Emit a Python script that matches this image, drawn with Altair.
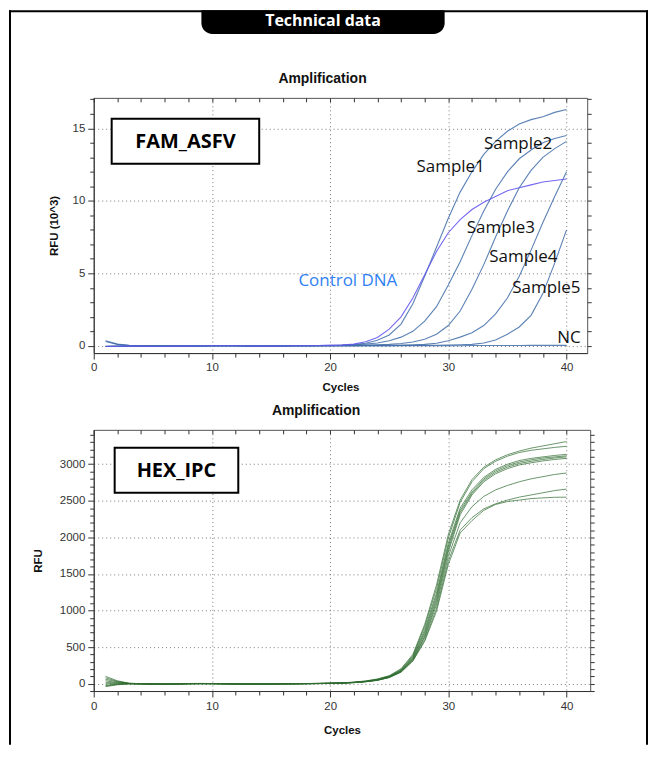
import altair as alt
import pandas as pd

# ---------------- data ----------------
cycles = list(range(1, 41))

# FAM channel, RFU x 10^3
fam_control_dna = [-0.05, -0.03, -0.02, -0.02, -0.03, -0.03, -0.02, -0.02, -0.01, 0.0,
                   0.0, 0.0, -0.01, -0.02, -0.02, -0.01, 0.0, 0.01, 0.02, 0.03,
                   0.05, 0.12, 0.28, 0.57, 1.15, 2.0, 3.3, 4.9, 6.5, 7.8,
                   8.7, 9.4, 9.9, 10.3, 10.7, 10.9, 11.1, 11.3, 11.4, 11.5]
fam_sample1 = [0.35, 0.12, 0.03, 0.0, -0.02, -0.02, -0.02, -0.02, -0.01, 0.0,
               0.0, 0.0, -0.01, -0.02, -0.02, -0.01, 0.0, 0.01, 0.02, 0.03,
               0.05, 0.09, 0.18, 0.38, 0.75, 1.5, 2.9, 4.8, 6.8, 8.8,
               10.6, 12.0, 13.2, 14.1, 14.8, 15.3, 15.6, 15.8, 16.1, 16.3]
fam_sample2 = [0.3, 0.1, 0.02, 0.0, -0.02, -0.02, -0.02, -0.01, -0.01, 0.0,
               0.0, 0.0, -0.01, -0.01, -0.02, -0.01, 0.0, 0.0, 0.01, 0.02,
               0.04, 0.07, 0.12, 0.2, 0.35, 0.6, 1.0, 1.7, 2.7, 4.2,
               5.8, 7.6, 9.3, 10.8, 12.0, 12.9, 13.5, 14.0, 14.3, 14.5]
fam_sample3 = [-0.05, -0.03, -0.02, -0.02, -0.02, -0.02, -0.02, -0.01, -0.01, 0.0,
               0.0, 0.0, -0.01, -0.01, -0.01, -0.01, 0.0, 0.0, 0.0, 0.01,
               0.02, 0.03, 0.05, 0.07, 0.1, 0.16, 0.26, 0.45, 0.8, 1.4,
               2.4, 3.9, 5.6, 7.5, 9.3, 10.9, 12.1, 13.0, 13.6, 14.1]
fam_sample4 = [-0.04, -0.03, -0.02, -0.02, -0.02, -0.02, -0.01, -0.01, -0.01, 0.0,
               0.0, 0.0, -0.01, -0.01, -0.01, 0.0, 0.0, 0.0, 0.0, 0.0,
               0.0, 0.01, 0.02, 0.03, 0.04, 0.05, 0.07, 0.1, 0.18, 0.35,
               0.6, 0.9, 1.4, 2.2, 3.3, 4.8, 6.6, 8.5, 10.3, 12.0]
fam_sample5 = [-0.04, -0.03, -0.02, -0.02, -0.02, -0.01, -0.01, -0.01, -0.01, 0.0,
               0.0, 0.0, 0.0, -0.01, -0.01, 0.0, 0.0, 0.0, 0.0, 0.0,
               0.0, 0.0, 0.0, 0.01, 0.01, 0.02, 0.02, 0.03, 0.04, 0.05,
               0.07, 0.1, 0.2, 0.4, 0.8, 1.3, 2.1, 3.6, 5.7, 8.0]
fam_nc = [-0.05, -0.03, -0.02, -0.02, -0.01, -0.01, -0.01, -0.01, 0.0, 0.0,
          0.0, 0.0, 0.0, 0.0, 0.0, 0.0, 0.0, 0.0, 0.0, 0.0,
          0.0, 0.0, 0.0, 0.0, 0.0, 0.01, 0.01, 0.01, 0.01, 0.01,
          0.01, 0.02, 0.02, 0.02, 0.02, 0.02, 0.03, 0.03, 0.03, 0.03]

# HEX channel, RFU
hex_a = [100, 40, 6, 1, -2, -3, -1, 3, 4, 3, 1, -1, -2, -2, -1, 0, 1, 3, 5, 8,
         12, 22, 38, 65, 110, 205, 400, 810, 1350, 2040, 2510, 2790, 2960, 3060, 3130, 3180, 3220, 3250, 3280, 3310]
hex_b = [80, 32, 5, 0, -3, -4, -2, 2, 3, 2, 0, -2, -3, -3, -2, -1, 0, 2, 4, 7,
         10, 20, 35, 60, 105, 195, 385, 780, 1300, 1990, 2480, 2760, 2940, 3040, 3110, 3160, 3190, 3210, 3230, 3245]
hex_c = [60, 25, 4, 0, -3, -4, -3, 1, 2, 2, 0, -2, -3, -4, -3, -1, 0, 2, 4, 6,
         10, 18, 32, 56, 98, 185, 370, 740, 1240, 1920, 2400, 2650, 2820, 2930, 3000, 3050, 3080, 3100, 3120, 3135]
hex_d = [40, 15, 3, -1, -4, -5, -3, 1, 2, 1, -1, -3, -4, -4, -3, -2, 0, 1, 3, 6,
         10, 18, 31, 54, 95, 180, 355, 710, 1200, 1880, 2370, 2620, 2800, 2910, 2980, 3030, 3060, 3085, 3100, 3115]
hex_e = [20, 10, 2, -1, -4, -5, -3, 0, 2, 1, -1, -3, -4, -4, -3, -2, -1, 1, 3, 5,
         9, 17, 30, 52, 92, 175, 345, 680, 1160, 1840, 2340, 2600, 2780, 2890, 2960, 3010, 3040, 3065, 3085, 3100]
hex_f = [0, 5, 1, -2, -5, -6, -4, 0, 1, 1, -1, -3, -5, -5, -4, -2, -1, 1, 3, 5,
         9, 16, 29, 50, 90, 170, 335, 650, 1120, 1800, 2310, 2580, 2760, 2870, 2940, 2990, 3020, 3045, 3065, 3080]
hex_g = [-20, -5, 0, -2, -5, -6, -4, -1, 1, 0, -2, -4, -5, -5, -4, -3, -1, 0, 2, 5,
         8, 15, 28, 48, 88, 165, 325, 630, 1080, 1740, 2200, 2420, 2560, 2650, 2710, 2760, 2800, 2830, 2860, 2880]
hex_h = [-30, -10, -1, -3, -5, -6, -4, -1, 0, 0, -2, -4, -5, -6, -5, -3, -2, 0, 2, 4,
         8, 15, 27, 47, 85, 160, 315, 600, 1030, 1680, 2100, 2270, 2390, 2460, 2510, 2550, 2580, 2610, 2640, 2660]
hex_i = [-40, -15, -2, -3, -6, -7, -5, -2, 0, -1, -3, -4, -6, -6, -5, -4, -2, 0, 1, 4,
         8, 14, 26, 46, 84, 158, 310, 580, 990, 1630, 2060, 2230, 2370, 2450, 2490, 2510, 2530, 2540, 2548, 2550]

# tick values
x_ticks = list(range(0, 41, 2))
fam_y_ticks = list(range(0, 18))
hex_y_ticks = list(range(-100, 3401, 100))

# curve labels (text) and where they sit (cycle, RFU x10^3)
fam_label_text = ["Sample1", "Sample2", "Sample3", "Sample4", "Sample5", "NC"]
fam_label_cycle = [30.2, 35.9, 34.45, 36.35, 38.3, 40.2]
fam_label_rfu = [12.35, 13.95, 8.1, 6.1, 4.0, 0.52]
control_label_text = ["Control DNA"]
control_label_cycle = [21.5]
control_label_rfu = [4.45]

# ---------------- helpers ----------------
AX_FONT = "Liberation Sans"
TXT_FONT = "Open Sans"


def long_df(series):
    rows = []
    for name, vals in series.items():
        assert len(vals) == len(cycles), name
        for c, v in zip(cycles, vals):
            rows.append({"series": name, "cycle": c, "rfu": v})
    return pd.DataFrame(rows)


def cond(test, major, minor):
    return {"condition": {"test": test, "value": major}, "value": minor}


def main_x_axis(step, lpad, tpad):
    t = f"datum.value % {step} === 0"
    return alt.Axis(values=x_ticks, labelExpr=f"{t} ? datum.label : ''",
                    grid=True, gridColor="#7a7a7a", gridDash=[1, 3],
                    gridOpacity=cond(t, 1, 0), tickSize=cond(t, 6, 4),
                    tickColor="#333", domainColor="#333", labelFlush=False,
                    labelFont=AX_FONT, labelFontSize=11.5, labelColor="#333",
                    labelPadding=lpad, labelOverlap=False,
                    title="Cycles", titleFont=AX_FONT, titleFontSize=11.5,
                    titleFontWeight="bold", titleColor="#111", titlePadding=tpad)


def main_y_axis(values, step, title, tpad):
    t = f"datum.value % {step} === 0"
    return alt.Axis(values=values, labelExpr=f"{t} ? datum.label : ''",
                    grid=True, gridColor="#7a7a7a", gridDash=[1, 3],
                    gridOpacity=cond(t, 1, 0), tickSize=cond(t, 6, 4),
                    tickColor="#333", domainColor="#333", labelFlush=False,
                    labelFont=AX_FONT, labelFontSize=11.5, labelColor="#333",
                    labelPadding=3, labelOverlap=False, format="d",
                    title=title, titleFont=AX_FONT, titleFontSize=11.5,
                    titleFontWeight="bold", titleColor="#111", titlePadding=tpad)


def mirror_layer(df, xscale, yscale, yvalues):
    return alt.Chart(df).mark_line(opacity=0).encode(
        x=alt.X("cycle:Q", scale=xscale,
                axis=alt.Axis(orient="top", values=x_ticks, labels=False, grid=False,
                              domain=False, tickSize=4, offset=-4, tickColor="#333",
                              title=None)),
        y=alt.Y("rfu:Q", scale=yscale,
                axis=alt.Axis(orient="right", values=yvalues, labels=False, grid=False,
                              domain=False, tickSize=4, tickColor="#333", title=None)),
        detail="series:N",
    )


one = pd.DataFrame({"k": [0]})


def box(x1, x2, y1, y2, label):
    r = alt.Chart(one).mark_rect(fill="white", stroke="black", strokeWidth=2).encode(
        x=alt.value(x1), x2=alt.value(x2), y=alt.value(y1), y2=alt.value(y2))
    t = alt.Chart(one).mark_text(text=label, font=TXT_FONT, fontSize=20, fontWeight="bold",
                                 color="black", align="center", baseline="middle").encode(
        x=alt.value((x1 + x2) / 2), y=alt.value((y1 + y2) / 2 + 1))
    return r + t


def panel_title(xc, yc):
    return alt.Chart(one).mark_text(text="Amplification", font=AX_FONT, fontSize=14,
                                    fontWeight="bold", color="#111", align="center",
                                    baseline="middle").encode(x=alt.value(xc), y=alt.value(yc))


# ---------------- top panel: FAM_ASFV ----------------
fam_df = long_df({"Sample1": fam_sample1, "Sample2": fam_sample2, "Sample3": fam_sample3,
                  "Sample4": fam_sample4, "Sample5": fam_sample5, "NC": fam_nc})
ctrl_df = long_df({"Control DNA": fam_control_dna})

fx = alt.Scale(domain=[0, 41.75], nice=False, zero=False)
fy = alt.Scale(domain=[-0.5, 17.1], nice=False, zero=False)

fam_lines = alt.Chart(fam_df).mark_line(color="#3f6ca8", strokeWidth=1.1, opacity=0.85).encode(
    x=alt.X("cycle:Q", scale=fx, axis=main_x_axis(10, 2, 9)),
    y=alt.Y("rfu:Q", scale=fy, axis=main_y_axis(fam_y_ticks, 5, "RFU (10^3)", 13)),
    detail="series:N",
)
ctrl_line = alt.Chart(ctrl_df).mark_line(color="#6456f0", strokeWidth=1.1, opacity=0.9).encode(
    x=alt.X("cycle:Q", scale=fx, axis=None),
    y=alt.Y("rfu:Q", scale=fy, axis=None),
    detail="series:N",
)

lab_df = pd.DataFrame({"text": fam_label_text, "cycle": fam_label_cycle, "rfu": fam_label_rfu})
ctrl_lab_df = pd.DataFrame({"text": control_label_text, "cycle": control_label_cycle,
                            "rfu": control_label_rfu})
labels = alt.Chart(lab_df).mark_text(font=TXT_FONT, fontSize=17, color="#111",
                                     align="center", baseline="middle").encode(
    x=alt.X("cycle:Q", scale=fx, axis=None), y=alt.Y("rfu:Q", scale=fy, axis=None), text="text:N")
ctrl_labels = alt.Chart(ctrl_lab_df).mark_text(font=TXT_FONT, fontSize=17, color="#2f7ff2",
                                               align="center", baseline="middle").encode(
    x=alt.X("cycle:Q", scale=fx, axis=None), y=alt.Y("rfu:Q", scale=fy, axis=None), text="text:N")

# page frame and header tab
frame_left = alt.Chart(one).mark_rule(color="black", strokeWidth=2, strokeCap="square").encode(
    x=alt.value(-84), y=alt.value(-87), y2=alt.value(648))
frame_right = alt.Chart(one).mark_rule(color="black", strokeWidth=2, strokeCap="square").encode(
    x=alt.value(555), y=alt.value(-87), y2=alt.value(648))
frame_top = alt.Chart(one).mark_rule(color="black", strokeWidth=2, strokeCap="square").encode(
    y=alt.value(-87), x=alt.value(-84), x2=alt.value(555))
tab = alt.Chart(one).mark_rect(color="black", cornerRadiusBottomLeft=11,
                               cornerRadiusBottomRight=11).encode(
    x=alt.value(108), x2=alt.value(352), y=alt.value(-88), y2=alt.value(-64))
tab_text = alt.Chart(one).mark_text(text="Technical data", font=TXT_FONT, fontSize=16,
                                    fontWeight="bold", color="white", align="center",
                                    baseline="middle").encode(x=alt.value(230), y=alt.value(-77))

top = alt.layer(
    frame_left, frame_right, frame_top, tab, tab_text, panel_title(229.5, -19),
    fam_lines, ctrl_line, mirror_layer(fam_df, fx, fy, fam_y_ticks),
    labels, ctrl_labels, box(18, 166, 21, 66, "FAM_ASFV"),
).resolve_axis(x="independent", y="independent").properties(width=495, height=256)

# ---------------- bottom panel: HEX_IPC ----------------
hex_df = long_df({"A": hex_a, "B": hex_b, "C": hex_c, "D": hex_d, "E": hex_e,
                  "F": hex_f, "G": hex_g, "H": hex_h, "I": hex_i})
hx = alt.Scale(domain=[0, 42.0], nice=False, zero=False)
hy = alt.Scale(domain=[-100, 3470], nice=False, zero=False)

hex_lines = alt.Chart(hex_df).mark_line(color="#2c6a2e", strokeWidth=1.0, opacity=0.7).encode(
    x=alt.X("cycle:Q", scale=hx, axis=main_x_axis(10, 4, 12)),
    y=alt.Y("rfu:Q", scale=hy, axis=main_y_axis(hex_y_ticks, 500, "RFU", 16)),
    detail="series:N",
)

bottom = alt.layer(
    panel_title(223, -19), hex_lines, mirror_layer(hex_df, hx, hy, hex_y_ticks),
    box(21, 145, 18, 63, "HEX_IPC"),
).resolve_axis(x="independent", y="independent").properties(width=498, height=262)

chart = alt.vconcat(top, bottom, spacing=77, bounds="flush").properties(
    padding=0, background="white"
).configure_view(stroke="#555", strokeWidth=1)

chart.save("out.html", embed_options={"renderer": "svg", "actions": False})
